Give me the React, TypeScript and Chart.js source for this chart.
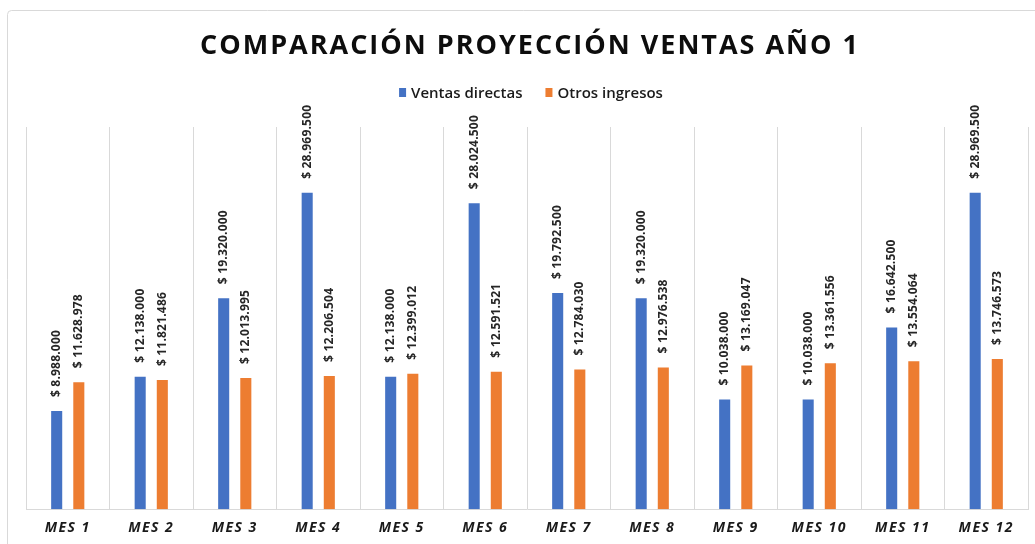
import React, { useEffect, useRef } from "react";
import { Chart, registerables } from "chart.js";

Chart.register(...registerables);

const TITLE = "COMPARACIÓN PROYECCIÓN VENTAS AÑO 1";
const categories = ["MES 1", "MES 2", "MES 3", "MES 4", "MES 5", "MES 6", "MES 7", "MES 8", "MES 9", "MES 10", "MES 11", "MES 12"];
const ventasDirectas = [8988000, 12138000, 19320000, 28969500, 12138000, 28024500, 19792500, 19320000, 10038000, 10038000, 16642500, 28969500];
const otrosIngresos = [11628978, 11821486, 12013995, 12206504, 12399012, 12591521, 12784030, 12976538, 13169047, 13361556, 13554064, 13746573];
const seriesNames = ["Ventas directas", "Otros ingresos"];
const seriesColors = ["#4472C4", "#ED7D31"];
const Y_MIN = 0;
const Y_MAX = 35000000;

function fmt(v: number): string {
  return "$ " + String(Math.round(v)).replace(/\B(?=(\d{3})+(?!\d))/g, ".");
}

const decorPlugin = {
  id: "decor",
  beforeDraw(chart: any) {
    const ctx = chart.ctx as CanvasRenderingContext2D;
    ctx.save();
    ctx.fillStyle = "#ffffff";
    ctx.fillRect(0, 0, chart.width, chart.height);
    ctx.strokeStyle = "#d9d9d9";
    ctx.lineWidth = 1;
    ctx.beginPath();
    ctx.moveTo(7.5, chart.height);
    ctx.lineTo(7.5, 14.5);
    ctx.arcTo(7.5, 10.5, 11.5, 10.5, 4);
    ctx.lineTo(chart.width, 10.5);
    ctx.stroke();
    ctx.restore();
    // letter spacing used by the x tick labels
    (ctx as any).letterSpacing = "1.5px";
  },
  beforeDatasetsDraw(chart: any) {
    (chart.ctx as any).letterSpacing = "0px";
  },
  afterDatasetsDraw(chart: any) {
    const ctx = chart.ctx as CanvasRenderingContext2D;
    chart.data.datasets.forEach((ds: any, di: number) => {
      const meta = chart.getDatasetMeta(di);
      meta.data.forEach((el: any, i: number) => {
        const v = ds.data[i];
        ctx.save();
        ctx.translate(el.x, el.y - 14);
        ctx.rotate(-Math.PI / 2);
        ctx.font = "700 12px 'Open Sans'";
        (ctx as any).letterSpacing = "0.2px";
        ctx.fillStyle = "#262626";
        ctx.textAlign = "left";
        ctx.textBaseline = "middle";
        ctx.fillText(fmt(v), 0, 0);
        ctx.restore();
      });
    });
  },
  afterDraw(chart: any) {
    const ctx = chart.ctx as CanvasRenderingContext2D;
    // Title
    ctx.save();
    ctx.font = "700 27px 'Open Sans'";
    (ctx as any).letterSpacing = "0px";
    const targetW = 658;
    const baseW = ctx.measureText(TITLE).width;
    const n = Array.from(TITLE).length;
    const sp = (targetW - baseW) / (n - 1);
    (ctx as any).letterSpacing = sp + "px";
    ctx.fillStyle = "#0d0d0d";
    ctx.textAlign = "left";
    ctx.textBaseline = "alphabetic";
    ctx.fillText(TITLE, 529 - targetW / 2, 54);
    ctx.restore();

    // Legend
    ctx.save();
    ctx.font = "600 15px 'Open Sans'";
    (ctx as any).letterSpacing = "0px";
    const box = 7;
    const gap = 5;
    const itemGap = 23;
    const widths = seriesNames.map((s) => ctx.measureText(s).width);
    const total = widths.reduce((a, w) => a + box + gap + w, 0) + itemGap * (seriesNames.length - 1);
    let x = 531 - total / 2;
    seriesNames.forEach((s, i) => {
      ctx.fillStyle = seriesColors[i];
      ctx.fillRect(x, 88, box, 9);
      ctx.fillStyle = "#1a1a1a";
      ctx.textAlign = "left";
      ctx.textBaseline = "alphabetic";
      ctx.fillText(s, x + box + gap, 98);
      x += box + gap + widths[i] + itemGap;
    });
    ctx.restore();
  },
};

export default function App() {
  const ref = useRef<HTMLCanvasElement | null>(null);
  useEffect(() => {
    if (!ref.current) return;
    const chart = new Chart(ref.current, {
      type: "bar",
      data: {
        labels: categories,
        datasets: [
          {
            label: seriesNames[0],
            data: ventasDirectas,
            backgroundColor: seriesColors[0],
            categoryPercentage: 0.53,
            barPercentage: 0.5,
          },
          {
            label: seriesNames[1],
            data: otrosIngresos,
            backgroundColor: seriesColors[1],
            categoryPercentage: 0.53,
            barPercentage: 0.5,
          },
        ],
      },
      options: {
        responsive: false,
        animation: false,
        layout: { padding: { left: 26, right: 7, top: 127, bottom: -2 } },
        plugins: {
          legend: { display: false },
          title: { display: false },
          tooltip: { enabled: false },
        },
        scales: {
          x: {
            grid: { offset: true, color: "#d9d9d9", drawTicks: false, lineWidth: 1 },
            border: { display: true, color: "#d9d9d9" },
            ticks: {
              color: "#1a1a1a",
              padding: 10,
              maxRotation: 0,
              font: { family: "'Open Sans'", size: 14, style: "italic", weight: "bold" },
            },
          },
          y: {
            display: false,
            min: Y_MIN,
            max: Y_MAX,
          },
        },
      },
      plugins: [decorPlugin],
    });
    return () => chart.destroy();
  }, []);
  return (
    <div style={{ position: "fixed", left: 0, top: 0, width: 1035, height: 544, overflow: "hidden", background: "#fff" }}>
      <canvas ref={ref} width={1035} height={544} style={{ display: "block" }} />
    </div>
  );
}
